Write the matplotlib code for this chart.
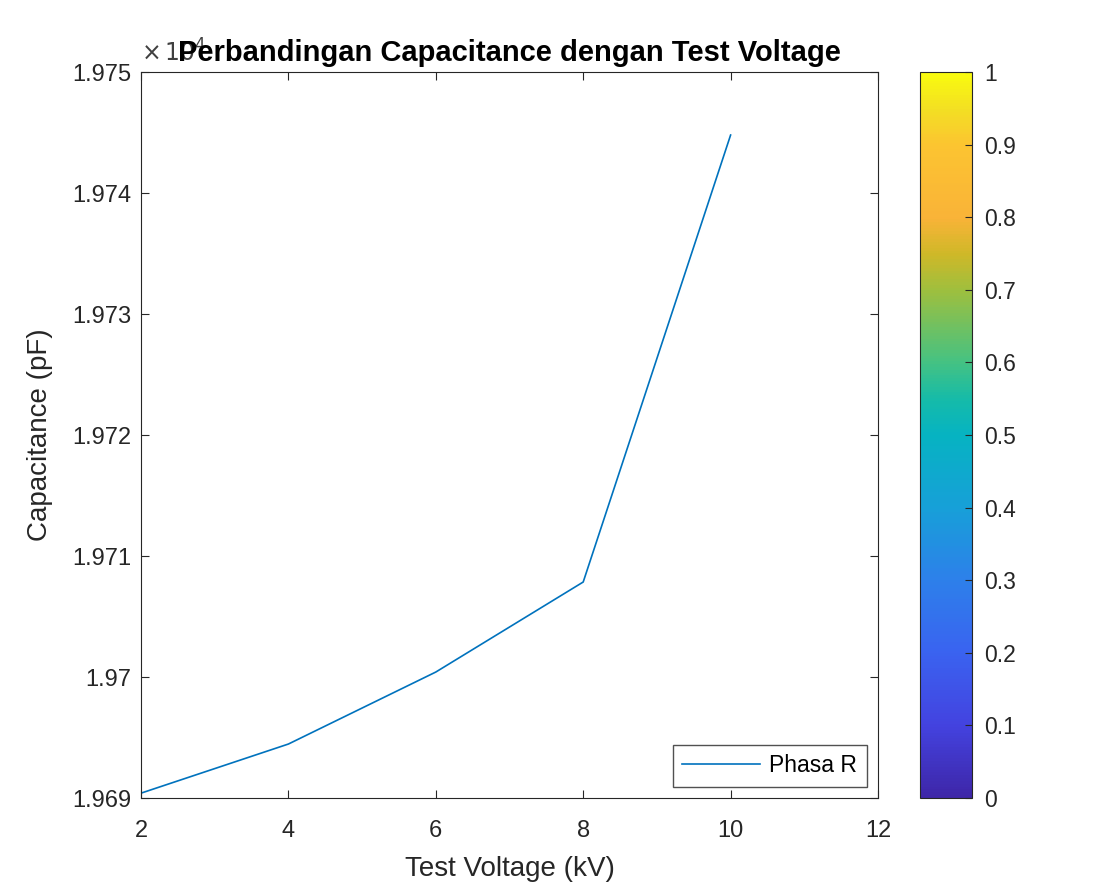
import numpy as np
import matplotlib.pyplot as plt
from matplotlib.colors import LinearSegmentedColormap
import matplotlib as mpl

plt.rcParams['font.family'] = ['Liberation Sans', 'DejaVu Sans']

# Data
voltage = [2, 4, 6, 8, 10]
capacitance = [1.96904, 1.969446, 1.970041, 1.970785, 1.974479]  # x 1e4 pF

# parula-like colormap
parula_pts = [0.0, 0.1, 0.2, 0.3, 0.4, 0.5, 0.55, 0.6, 0.7, 0.75, 0.8, 0.9, 0.95, 1.0]
parula_cols = ['#3e26a8', '#4343e0', '#3a63f0', '#2d80ea', '#17a0d8', '#06b3c2',
               '#16bba8', '#44c283', '#9ebf3e', '#cfb828', '#f9b338', '#fcc431',
               '#f3df23', '#f9fb0e']
parula = LinearSegmentedColormap.from_list('parula', list(zip(parula_pts, parula_cols)))

fig = plt.figure(figsize=(11.05, 8.93), dpi=100)
ax = fig.add_axes([141/1105, 1-798/893, (878-141)/1105, (798-72)/893])
cax = fig.add_axes([920/1105, 1-798/893, (972-920)/1105, (798-72)/893])

ax.plot(voltage, capacitance, color='#0072BD', linewidth=1.2, label='Phasa R')

ax.set_xlim(2, 12)
ax.set_ylim(1.969, 1.975)
ax.set_xticks([2, 4, 6, 8, 10, 12])
ax.set_yticks(np.arange(1.969, 1.9751, 0.001))
ax.set_yticklabels(['1.969', '1.97', '1.971', '1.972', '1.973', '1.974', '1.975'])
ax.tick_params(direction='in', top=True, right=True, labelsize=17, colors='#262626',
               length=6, pad=7)
ax.tick_params(axis='x', pad=16)
for s in ax.spines.values():
    s.set_color('#262626')

ax.set_xlabel('Test Voltage (kV)', fontsize=20, color='#262626', labelpad=10)
ax.set_ylabel('Capacitance (pF)', fontsize=20, color='#262626', labelpad=14)
ax.set_title('Perbandingan Capacitance dengan Test Voltage', fontsize=21,
             fontweight='bold', pad=8)
ax.text(0.0, 1.008, r'$\times\,10^4$', transform=ax.transAxes, fontsize=17,
        color='#404040', ha='left', va='bottom')

leg = ax.legend(loc='lower right', fontsize=16.5, frameon=True, fancybox=False,
                handlelength=3.4, handletextpad=0.4, borderpad=0.4,
                borderaxespad=0.5)
leg.get_frame().set_edgecolor('#262626')
leg.get_frame().set_linewidth(1.0)

cb = mpl.colorbar.ColorbarBase(cax, cmap=parula, norm=mpl.colors.Normalize(0, 1))
cb.set_ticks(np.arange(0, 1.01, 0.1))
cb.set_ticklabels(['0', '0.1', '0.2', '0.3', '0.4', '0.5', '0.6', '0.7', '0.8', '0.9', '1'])
cax.tick_params(direction='in', labelsize=16.5, colors='#262626', length=5, pad=9)
cb.outline.set_edgecolor('#262626')

plt.savefig('out.png', dpi=100)
